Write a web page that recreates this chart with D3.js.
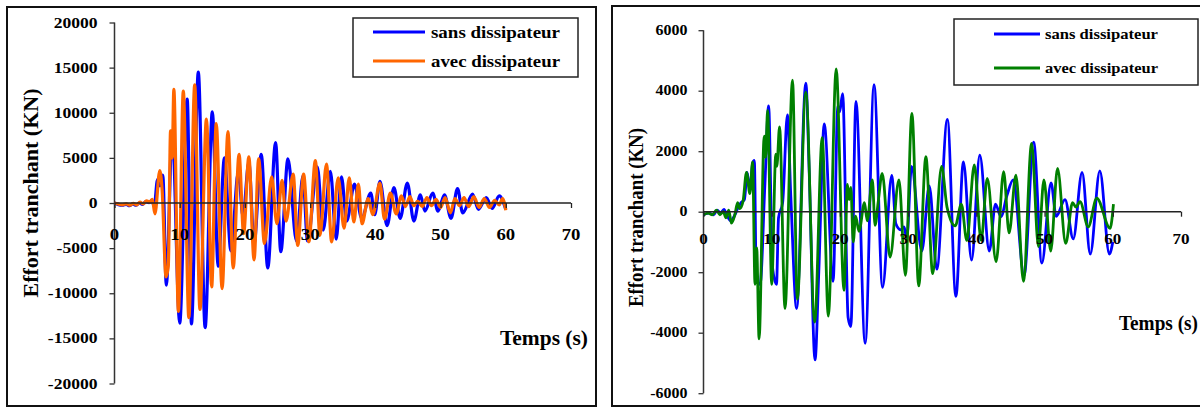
<!DOCTYPE html>
<html><head><meta charset="utf-8">
<script src="https://cdn.jsdelivr.net/npm/d3@7"></script>
<style>
html,body{margin:0;padding:0;background:#fff;}
svg{display:block;}
svg text{font-family:"Liberation Serif","Times New Roman",serif !important;fill:#000;}
</style></head><body>
<svg id="chart" width="1200" height="408"></svg>
<script>
// ---------- data ----------
const seriesNames = ["sans dissipateur", "avec dissipateur"];
const xTicks = [0, 10, 20, 30, 40, 50, 60, 70];
const leftYTicks = [-20000, -15000, -10000, -5000, 0, 5000, 10000, 15000, 20000];
const rightYTicks = [-6000, -4000, -2000, 0, 2000, 4000, 6000];
const xTitle = "Temps (s)";
const leftYTitle = "Effort  tranchant (KN)";
const rightYTitle = "Effort tranchant (KN)";

// left panel: time (s), shear (KN)
const leftSans = [[0,0],[0.5,-150],[1.2,-250],[1.8,-150],[2.3,-300],[2.8,-100],[3.3,-250],[3.8,0],[4.3,-150],[4.8,150],[5.3,50],[5.7,300],[6.1,-300],[6.6,2600],[6.95,1900],[7.4,3100],[7.95,-9100],[8.85,8000],[10.0,-13300],[11.15,11500],[11.8,-13400],[12.85,14500],[13.9,-13800],[15.0,10100],[15.9,-7000],[16.85,5000],[17.85,-5300],[19.0,3500],[19.7,-1500],[20.6,4500],[21.4,-4500],[22.5,5400],[23.5,-7200],[24.7,6700],[25.5,-5400],[26.6,4900],[27.9,-4200],[28.9,3000],[29.6,-4200],[31.1,4000],[32.0,-3000],[33.1,3500],[34.0,-4000],[34.8,2900],[35.6,-2000],[36.8,2100],[37.9,-1700],[39.3,1100],[39.9,-1300],[40.7,2400],[41.8,-2500],[42.85,1700],[43.8,-1700],[44.9,2200],[45.9,-2000],[46.9,900],[47.6,-900],[48.8,1100],[49.6,-900],[50.6,900],[51.6,-1700],[52.6,1600],[53.4,-1100],[54.9,1000],[55.8,-700],[57.0,600],[57.9,-600],[59.0,800],[60,-700]];
const leftAvec = [[0,0],[0.5,-100],[1.2,-200],[1.8,-100],[2.4,-250],[2.9,-50],[3.4,-200],[3.9,100],[4.4,-100],[4.9,250],[5.4,100],[5.8,400],[6.2,-1200],[6.95,3600],[7.3,1500],[7.9,-8200],[8.25,-7000],[8.6,8000],[8.85,5000],[9.1,12600],[9.8,-12000],[10.55,12400],[11.4,-12700],[12.3,13100],[13.1,-11800],[14.1,9300],[14.9,-9300],[15.6,8800],[16.5,-9500],[17.4,7900],[18.2,-7200],[19.1,5400],[19.8,-3400],[20.6,5100],[21.4,-6300],[22.1,4900],[23.0,-4500],[24.1,2900],[24.9,-2300],[25.7,2500],[26.3,-2000],[27.4,3200],[28.1,-4700],[29.0,3200],[29.8,-4300],[30.8,4700],[31.5,-3600],[32.5,4300],[33.3,-4300],[34.3,2800],[35.2,-2800],[36.0,2800],[36.7,-2100],[37.4,2100],[37.95,-2300],[38.9,500],[39.6,-1300],[40.7,2200],[41.4,-1800],[42.3,1100],[43.2,-1200],[44.0,800],[44.6,-400],[45.3,700],[45.9,-300],[46.5,200],[47.2,-400],[47.9,600],[48.6,-300],[49.3,400],[50.0,-500],[50.7,600],[51.5,-1100],[52.2,500],[52.9,-300],[53.6,600],[54.3,-400],[55.1,700],[55.9,-500],[56.7,500],[57.5,-500],[58.3,300],[59.0,-200],[59.5,500],[60,-800]];

// right panel: time (s), shear (KN)
const rightSans = [[0,-100],[0.8,-50],[1.5,-100],[2.0,50],[2.5,-50],[3.0,80],[3.5,-150],[4.0,-300],[4.5,-150],[5.0,100],[5.5,300],[6.0,400],[6.4,1300],[6.8,700],[7.2,1600],[7.45,1700],[7.75,-2300],[8.3,-2400],[9.0,900],[9.55,3500],[10.1,-1800],[10.7,-2400],[11.0,-200],[11.6,300],[12.3,3200],[12.8,500],[13.65,-3200],[15.0,4250],[15.5,1300],[16.35,-4900],[16.9,-2000],[17.7,2900],[19.0,-2300],[19.7,3500],[19.95,3300],[20.4,3900],[21.2,-3500],[21.6,-3800],[22.35,3650],[23.7,-4350],[25.0,4200],[26.25,-2500],[27.6,1200],[28.2,-400],[28.9,-600],[29.4,-500],[29.8,-900],[30.5,1500],[32.0,-1300],[33.1,850],[34.2,-1900],[35.75,3050],[37.0,-2800],[38.1,1650],[39.3,-1600],[40.5,1870],[41.9,-1300],[42.8,250],[43.6,-160],[44.5,550],[45.4,1050],[47.0,-2100],[48.4,2300],[49.6,-1700],[50.95,950],[51.7,-150],[53.0,400],[54.2,-900],[55.5,1300],[56.7,-1400],[58.1,1350],[59.5,-1400],[60,-1000]];
const rightAvec = [[0,-100],[0.7,-50],[1.3,-100],[1.9,50],[2.4,-100],[2.9,0],[3.3,-200],[3.7,50],[4.1,-380],[4.6,-100],[5.0,300],[5.3,100],[5.8,350],[6.3,1300],[6.8,600],[7.2,1650],[7.55,-2400],[7.8,-1200],[8.15,-4200],[8.9,2500],[9.1,1800],[9.4,3350],[10.0,-2400],[10.6,1900],[10.75,1500],[11.15,2800],[11.95,-3200],[13.05,4350],[13.75,-2900],[15.0,3950],[16.3,-3650],[17.4,2450],[18.3,-3450],[19.45,4720],[20.6,-2600],[21.1,900],[21.35,400],[21.6,800],[21.95,-1000],[22.3,-150],[22.8,-650],[23.6,300],[24.0,-300],[24.75,1050],[25.15,-450],[25.6,300],[26.2,1270],[27.35,-1500],[28.65,1050],[29.6,-2100],[30.55,3250],[31.55,-2450],[32.6,1820],[33.6,-2050],[34.9,1500],[35.7,150],[36.9,-470],[37.8,250],[38.6,-950],[39.7,1550],[40.7,-950],[41.6,1100],[42.9,-1650],[44.0,1320],[44.8,-700],[45.8,1210],[46.9,-2300],[48.1,2260],[49.1,-1150],[49.9,1050],[50.9,-1300],[51.9,1430],[53.1,-1050],[54.1,300],[54.6,150],[55.2,330],[56.4,-500],[57.65,450],[59.6,-550],[60.1,250]];

// ---------- layout ----------
const FONT = '"Liberation Serif", "Times New Roman", serif';
const svg = d3.select("#chart");

const panels = [
  {
    frame: {x: 7, y: 7, w: 589, h: 399},
    xRange: [114.5, 571], yRange: [383.5, 22.5], yDomain: [-20000, 20000],
    yTicks: leftYTicks, series: [leftSans, leftAvec], colors: ["#0000ff", "#ff6600"], lw: 3.2,
    tickFont: 15, tickSx: 1.17, xLabelDy: 31, yLabelGap: 17,
    legend: {x: 353, y: 18, w: 225, h: 59, lx1: 373, lx2: 425, ly: [32, 61], tx: 431, tw: 129, fs: 16},
    yTitle: {text: leftYTitle, x: 30, y: 193, len: 209, fs: 22},
    xTitle: {x: 500, y: 338, len: 88, fs: 21}
  },
  {
    frame: {x: 612, y: 6, w: 600, h: 400},
    xRange: [703.5, 1181], yRange: [393.2, 30.2], yDomain: [-6000, 6000],
    yTicks: rightYTicks, series: [rightSans, rightAvec], colors: ["#0000ff", "#008000"], lw: 2.8,
    tickFont: 14, tickSx: 1.14, xLabelDy: 27.5, yLabelGap: 16,
    legend: {x: 954, y: 19, w: 244, h: 66, lx1: 994, lx2: 1040, ly: [34, 68], tx: 1045, tw: 113, fs: 15},
    yTitle: {text: rightYTitle, x: 635.5, y: 217.5, len: 179, fs: 20},
    xTitle: {x: 1119, y: 323, len: 79, fs: 20}
  }
];

function stretched(g, str, x, y, sx, fs, anchor, weight) {
  return g.append("text")
    .attr("transform", `translate(${x},${y}) scale(${sx},1)`)
    .attr("text-anchor", anchor)
    .attr("dominant-baseline", "central")
    .attr("font-family", FONT)
    .attr("font-size", fs)
    .attr("font-weight", weight)
    .text(str);
}

panels.forEach(p => {
  const g = svg.append("g").attr("font-family", FONT);
  // frame
  g.append("rect")
    .attr("x", p.frame.x).attr("y", p.frame.y)
    .attr("width", p.frame.w).attr("height", p.frame.h)
    .attr("fill", "#fff").attr("stroke", "#111").attr("stroke-width", 2);

  const x = d3.scaleLinear().domain([0, 70]).range(p.xRange);
  const y = d3.scaleLinear().domain(p.yDomain).range(p.yRange);
  const x0 = x(0), y0 = y(0);

  // y axis
  const yAxis = g.append("g").attr("transform", `translate(${x0},0)`)
    .call(d3.axisLeft(y).tickValues(p.yTicks).tickSize(5).tickFormat(""));
  yAxis.select(".domain").attr("stroke", "#333").attr("stroke-width", 1.5).attr("d", `M0,${y(p.yDomain[1])}V${y(p.yDomain[0])}`);
  yAxis.selectAll(".tick line").attr("stroke", "#333").attr("stroke-width", 1.3);
  p.yTicks.forEach(v => {
    stretched(g, String(v), x0 - p.yLabelGap, y(v), p.tickSx, p.tickFont, "end", "bold");
  });

  // lines
  const line = d3.line().x(d => x(d[0])).y(d => y(d[1])).curve(d3.curveMonotoneX);
  p.series.forEach((s, i) => {
    g.append("path").datum(s)
      .attr("fill", "none").attr("stroke", p.colors[i])
      .attr("stroke-width", p.lw).attr("stroke-linejoin", "round")
      .attr("d", line);
  });

  // x axis at zero
  const xAxis = g.append("g").attr("transform", `translate(0,${y0})`)
    .call(d3.axisBottom(x).tickValues(xTicks).tickSize(5).tickFormat(""));
  xAxis.select(".domain").attr("stroke", "#222").attr("stroke-width", 1.5).attr("d", `M${x0},0H${x(70)}`);
  xAxis.selectAll(".tick line").attr("stroke", "#222").attr("stroke-width", 1.3);
  xTicks.forEach(t => {
    stretched(g, String(t), x(t), y0 + p.xLabelDy, p.tickSx, p.tickFont + 1, "middle", "bold");
  });

  // legend
  const L = p.legend;
  g.append("rect").attr("x", L.x).attr("y", L.y).attr("width", L.w).attr("height", L.h)
    .attr("fill", "#fff").attr("stroke", "#222").attr("stroke-width", 1.5);
  seriesNames.forEach((name, i) => {
    g.append("line").attr("x1", L.lx1).attr("x2", L.lx2).attr("y1", L.ly[i]).attr("y2", L.ly[i])
      .attr("stroke", p.colors[i]).attr("stroke-width", p.lw);
    g.append("text").attr("x", L.tx).attr("y", L.ly[i])
      .attr("dominant-baseline", "central").attr("font-family", FONT).attr("font-size", L.fs)
      .attr("font-weight", "bold")
      .attr("textLength", L.tw).attr("lengthAdjust", "spacingAndGlyphs")
      .text(name);
  });

  // y title
  g.append("text")
    .attr("transform", `translate(${p.yTitle.x},${p.yTitle.y}) rotate(-90)`)
    .attr("text-anchor", "middle").attr("dominant-baseline", "central")
    .attr("font-family", FONT)
    .attr("font-size", p.yTitle.fs).attr("font-weight", "bold")
    .attr("textLength", p.yTitle.len).attr("lengthAdjust", "spacingAndGlyphs")
    .text(p.yTitle.text);

  // x title
  g.append("text").attr("x", p.xTitle.x).attr("y", p.xTitle.y)
    .attr("dominant-baseline", "central").attr("font-family", FONT).attr("font-size", p.xTitle.fs)
    .attr("font-weight", "bold")
    .attr("textLength", p.xTitle.len).attr("lengthAdjust", "spacingAndGlyphs")
    .text(xTitle);
});
</script>
</body></html>
